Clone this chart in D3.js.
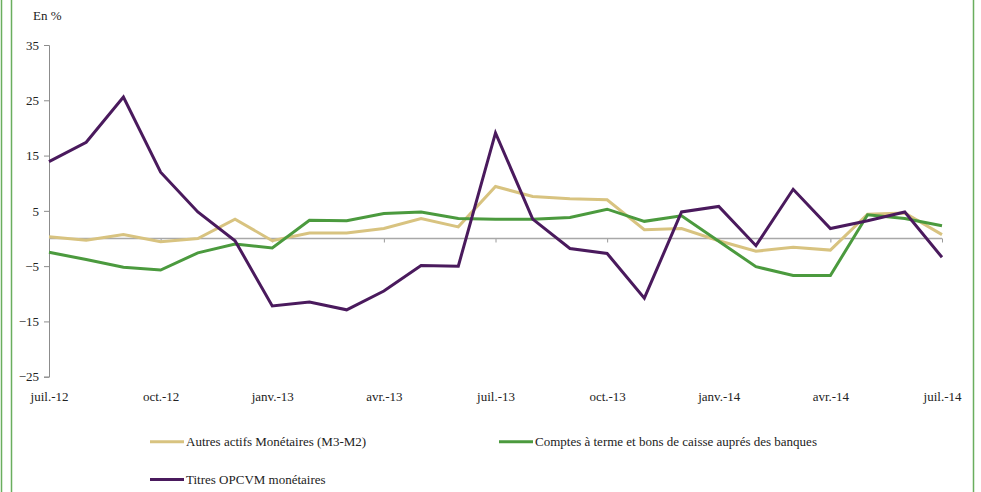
<!DOCTYPE html>
<html>
<head>
<meta charset="utf-8">
<script src="https://cdn.jsdelivr.net/npm/d3@7/dist/d3.min.js"></script>
<style>
  body { margin: 0; background: #fff; }
  svg text { font-family: "Times New Roman", "Liberation Serif", "DejaVu Serif", Times, serif !important; fill: #222; }
</style>
</head>
<body>
<div class="chart"></div>
<script>
// ---- data ----
var months = ['juil.-12','août-12','sept.-12','oct.-12','nov.-12','déc.-12',
	'janv.-13','févr.-13','mars-13','avr.-13','mai-13','juin-13',
	'juil.-13','août-13','sept.-13','oct.-13','nov.-13','déc.-13',
	'janv.-14','févr.-14','mars-14','avr.-14','mai-14','juin-14','juil.-14'];
var autresActifs = [0.3, -0.3, 0.7, -0.6, 0, 3.5, -0.4, 1.0, 1.0, 1.8, 3.6, 2.1,
	9.4, 7.6, 7.2, 7.0, 1.6, 1.8, -0.4, -2.3, -1.6, -2.1, 4.4, 4.6, 0.7];
var comptesTerme = [-2.5, -3.8, -5.2, -5.7, -2.6, -1.0, -1.7, 3.3, 3.2, 4.5, 4.8, 3.6,
	3.5, 3.5, 3.8, 5.3, 3.1, 4.1, -0.5, -5.1, -6.7, -6.7, 4.3, 3.6, 2.3];
var titresOpcvm = [13.9, 17.4, 25.6, 12.0, 4.8, -0.4, -12.2, -11.5, -12.9, -9.5, -4.9, -5.0,
	19.1, 3.5, -1.8, -2.7, -10.8, 4.8, 5.8, -1.3, 8.9, 1.8, 3.2, 4.8, -3.4];
var yTicks = [-25, -15, -5, 5, 15, 25, 35];
var xTickIdx = [0, 3, 6, 9, 12, 15, 18, 21, 24];

var series = [
	{name: 'Autres actifs Monétaires (M3-M2)', values: autresActifs, color: '#d8c380'},
	{name: 'Comptes à terme et bons de caisse auprés des banques', values: comptesTerme, color: '#4b9a3e'},
	{name: 'Titres OPCVM monétaires', values: titresOpcvm, color: '#4a1a5d'}
];

var w = 981, h = 492;
var serif = '"Times New Roman", "Liberation Serif", "DejaVu Serif", Times, serif';

var svg = d3.select('.chart').append('svg')
	.attr('width', w)
	.attr('height', h)
	.attr('font-family', serif);

// frame borders (green)
[1.5, 11.5, 973.5].forEach(function(bx){
	svg.append('line')
		.attr('x1', bx).attr('x2', bx)
		.attr('y1', 0).attr('y2', h)
		.style('stroke', '#6aae5e')
		.style('stroke-width', 1.5);
});

var x = d3.scaleLinear().domain([0, months.length - 1]).range([49, 942]);
var y = d3.scaleLinear().domain([-25, 35]).range([376.7, 45]);

/*----------------------- Y AXIS -----------------------*/
var yAxis = svg.append('g')
	.attr('transform', 'translate(49,0)')
	.call(d3.axisLeft(y).tickValues(yTicks).tickSize(5).tickPadding(5).tickFormat(d3.format('d')));
yAxis.attr('font-family', serif).attr('font-size', 13);
yAxis.selectAll('path, line').style('stroke', '#8c8c8c');
yAxis.selectAll('text').attr('fill', '#222');

/*----------------------- ZERO LINE + TICKS -----------------------*/
var zeroAxis = svg.append('g')
	.attr('transform', 'translate(0,' + y(0) + ')')
	.call(d3.axisBottom(x).tickValues(xTickIdx.slice(1)).tickSize(4).tickFormat(''));
zeroAxis.select('.domain').remove();
zeroAxis.selectAll('line').style('stroke', '#9a9a9a');
svg.append('line')
	.attr('x1', x(0)).attr('x2', x(months.length - 1))
	.attr('y1', y(0)).attr('y2', y(0))
	.style('stroke', '#a8a8a8')
	.style('stroke-width', 1.5);

/*----------------------- X LABELS -----------------------*/
var xLabels = svg.append('g')
	.attr('transform', 'translate(0,' + y(-25) + ')')
	.call(d3.axisBottom(x).tickValues(xTickIdx).tickSize(0).tickPadding(15)
		.tickFormat(function(i){ return months[i]; }));
xLabels.attr('font-family', serif).attr('font-size', 13);
xLabels.select('.domain').remove();
xLabels.selectAll('text').attr('fill', '#222');

/*----------------------- LINES -----------------------*/
var line = d3.line()
	.x(function(d, i){ return x(i); })
	.y(function(d){ return y(d); });

svg.selectAll('.series').data(series).enter()
	.append('path')
	.attr('class', 'series')
	.attr('d', function(s){ return line(s.values); })
	.style('fill', 'none')
	.style('stroke', function(s){ return s.color; })
	.style('stroke-width', 3)
	.style('stroke-linejoin', 'miter');

/*----------------------- LEGEND -----------------------*/
var legendPos = [[150, 441.7], [499, 441.7], [150, 479.5]];
var legend = svg.selectAll('.legend').data(series).enter()
	.append('g')
	.attr('class', 'legend')
	.attr('transform', function(d, i){ return 'translate(' + legendPos[i][0] + ',' + legendPos[i][1] + ')'; });

legend.append('line')
	.attr('x1', 0).attr('x2', 34)
	.attr('y1', 0).attr('y2', 0)
	.style('stroke', function(d){ return d.color; })
	.style('stroke-width', 3);

legend.append('text')
	.attr('x', 36)
	.attr('y', 4.5)
	.attr('font-size', 13)
	.text(function(d){ return d.name; });

svg.append('text')
	.attr('x', 33)
	.attr('y', 20)
	.attr('font-size', 13)
	.text('En %');
</script>
</body>
</html>
